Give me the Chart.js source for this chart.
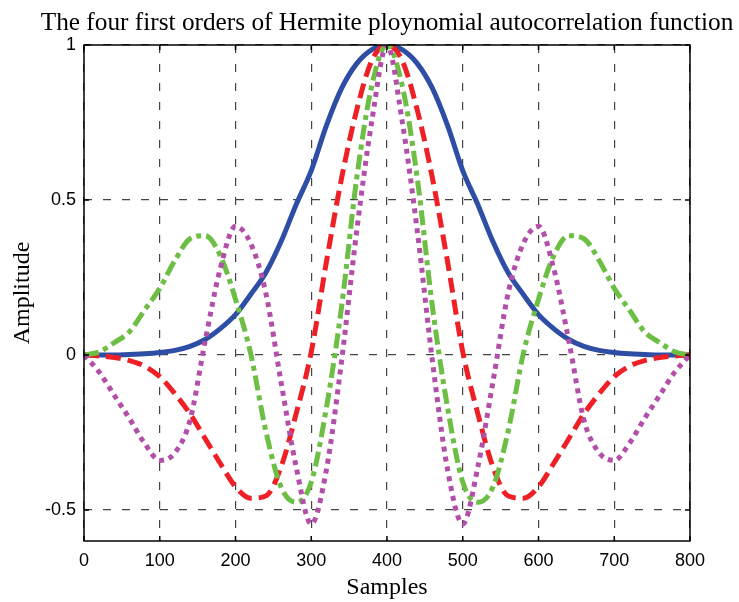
<!DOCTYPE html>
<html>
<head>
<meta charset="utf-8">
<script src="https://cdn.jsdelivr.net/npm/chart.js@4.4.0/dist/chart.umd.min.js"></script>
<style>
  html, body { margin: 0; padding: 0; background: #fff; }
  #wrap { width: 739px; height: 602px; }
</style>
</head>
<body>
<div id="wrap"><canvas id="chart" width="739" height="602"></canvas></div>
<script>
/* ---------- data ---------- */
const samples = [0, 20, 40, 60, 80, 100, 120, 140, 160, 180, 200, 220, 240, 260, 280, 300, 320, 340, 360, 380,
                 400, 420, 440, 460, 480, 500, 520, 540, 560, 580, 600, 620, 640, 660, 680, 700, 720, 740, 760, 780, 800];

const order0 = [0, 0, 0, 0.002, 0.004, 0.008, 0.015, 0.028, 0.05, 0.085, 0.13, 0.195, 0.265, 0.365, 0.485, 0.595, 0.74, 0.86, 0.94, 0.985,
                1, 0.985, 0.94, 0.86, 0.74, 0.595, 0.485, 0.365, 0.265, 0.195, 0.13, 0.085, 0.05, 0.028, 0.015, 0.008, 0.004, 0.002, 0, 0, 0];

const order1 = [0, -0.003, -0.008, -0.018, -0.036, -0.07, -0.125, -0.19, -0.27, -0.35, -0.425, -0.462, -0.455, -0.362, -0.19, 0.01, 0.3, 0.57, 0.79, 0.95,
                1, 0.95, 0.79, 0.57, 0.3, 0.01, -0.19, -0.362, -0.455, -0.462, -0.425, -0.35, -0.27, -0.19, -0.125, -0.07, -0.036, -0.018, -0.008, -0.003, 0];

const order2 = [0, 0.01, 0.04, 0.075, 0.145, 0.215, 0.305, 0.375, 0.385, 0.32, 0.18, 0.005, -0.245, -0.425, -0.475, -0.41, -0.17, 0.155, 0.57, 0.87,
                1, 0.87, 0.57, 0.155, -0.17, -0.41, -0.475, -0.425, -0.245, 0.005, 0.18, 0.32, 0.385, 0.375, 0.305, 0.215, 0.145, 0.075, 0.04, 0.01, 0];

const order3 = [0, -0.055, -0.13, -0.205, -0.285, -0.34, -0.315, -0.21, 0.046, 0.28, 0.415, 0.36, 0.2, -0.085, -0.36, -0.545, -0.37, -0.02, 0.4, 0.755,
                1, 0.755, 0.4, -0.02, -0.37, -0.545, -0.36, -0.085, 0.2, 0.36, 0.415, 0.28, 0.046, -0.21, -0.315, -0.34, -0.285, -0.205, -0.13, -0.055, 0];

const xTicks = [0, 100, 200, 300, 400, 500, 600, 700, 800];
const yTicks = [-0.5, 0, 0.5, 1];

const TITLE = 'The four first orders of Hermite ploynomial autocorrelation function';

/* ---------- helpers ---------- */
const toPoints = ys => samples.map((x, i) => ({ x, y: ys[i] }));

function series(label, ys, color, dash, order) {
  return {
    label,
    data: toPoints(ys),
    borderColor: color,
    borderWidth: 5,
    borderDash: dash,
    borderCapStyle: 'butt',
    cubicInterpolationMode: 'monotone',
    pointRadius: 0,
    fill: false,
    order,
  };
}

/* title centred over the plot box, inner ticks and the axes box */
const matlabFrame = {
  id: 'matlabFrame',
  afterDatasetsDraw(chart) {
    const { ctx, chartArea: a, scales: { x, y } } = chart;
    ctx.save();
    ctx.strokeStyle = '#000';
    ctx.lineWidth = 1.5;
    ctx.setLineDash([]);
    ctx.beginPath();
    xTicks.forEach(v => {
      const px = x.getPixelForValue(v);
      ctx.moveTo(px, a.bottom); ctx.lineTo(px, a.bottom - 5);
      ctx.moveTo(px, a.top);    ctx.lineTo(px, a.top + 5);
    });
    yTicks.forEach(v => {
      const py = y.getPixelForValue(v);
      ctx.moveTo(a.left, py);  ctx.lineTo(a.left + 5, py);
      ctx.moveTo(a.right, py); ctx.lineTo(a.right - 5, py);
    });
    ctx.stroke();
    ctx.strokeRect(a.left, a.top, a.right - a.left, a.bottom - a.top);
    ctx.restore();
  },
  afterDraw(chart) {
    const { ctx, chartArea: a } = chart;
    ctx.save();
    ctx.fillStyle = '#000';
    ctx.font = "25.3px 'Liberation Serif', serif";
    ctx.textAlign = 'center';
    ctx.textBaseline = 'alphabetic';
    ctx.fillText(TITLE, (a.left + a.right) / 2, 30);
    ctx.restore();
  },
};

const tickFont  = { family: "'Liberation Sans', Arial, sans-serif", size: 18 };
const titleFont = { family: "'Liberation Serif', serif", size: 24 };

new Chart(document.getElementById('chart'), {
  type: 'line',
  data: {
    datasets: [
      series('Order 0', order0, '#2E4EA6', [], 4),
      series('Order 1', order1, '#EE2026', [15, 7], 3),
      series('Order 2', order2, '#6CBE45', [15, 5, 5, 5], 2),
      series('Order 3', order3, '#B24FA8', [5, 5], 1),
    ],
  },
  options: {
    responsive: false,
    animation: false,
    layout: { padding: { top: 45, right: 49, left: 0, bottom: 0 } },
    plugins: {
      legend: { display: false },
      tooltip: { enabled: false },
      title: { display: false },
    },
    scales: {
      x: {
        type: 'linear',
        min: 0,
        max: 800,
        afterBuildTicks: s => { s.ticks = xTicks.map(v => ({ value: v })); },
        afterFit: s => { s.height = 61; },
        grid: { color: '#444', lineWidth: 1.2, drawTicks: false },
        border: { display: false, dash: [8, 11] },
        ticks: { color: '#000', font: tickFont, padding: 9, maxRotation: 0 },
        title: { display: true, text: 'Samples', color: '#000', font: titleFont, padding: 0 },
      },
      y: {
        type: 'linear',
        min: -0.6,
        max: 1,
        afterBuildTicks: s => { s.ticks = yTicks.map(v => ({ value: v })); },
        afterFit: s => { s.width = 84; },
        grid: { color: '#444', lineWidth: 1.2, drawTicks: false },
        border: { display: false, dash: [8, 11] },
        ticks: { color: '#000', font: tickFont, padding: 8, callback: v => String(v) },
        title: { display: true, text: 'Amplitude', color: '#000', font: titleFont, padding: { top: 8, bottom: 0 } },
      },
    },
  },
  plugins: [matlabFrame],
});
</script>
</body>
</html>
